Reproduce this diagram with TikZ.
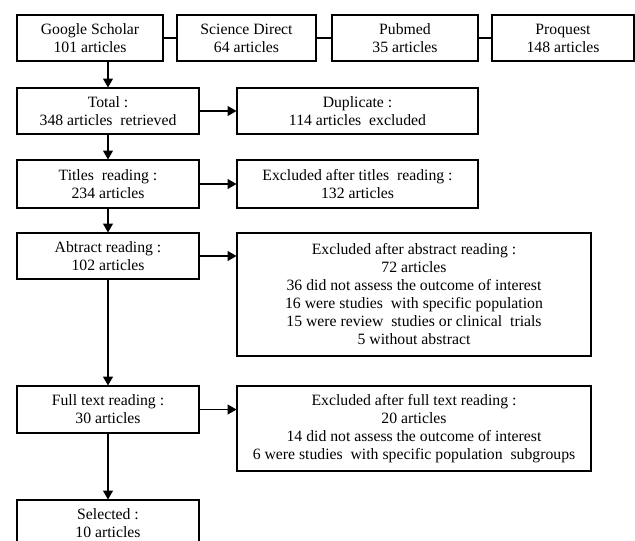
\documentclass[tikz,border=0pt]{standalone}
\usepackage{fontspec}
\setmainfont{Liberation Serif}
\usetikzlibrary{arrows}

\tikzset{
  box/.style={draw, line width=0.8pt, align=center, inner sep=0pt,
    font=\fontsize{11.8}{13.5}\selectfont},
  conn/.style={line width=0.8pt}
}

\begin{document}
\begin{tikzpicture}[x=0.75pt, y=-0.75pt, >=triangle 60]
\useasboundingbox (0,0) rectangle (635,540);
\clip (0,0) rectangle (635,540);

% databases
\begin {scope}
  \node [box, minimum width=109.5pt, minimum height=34.5pt] (gs) at (90,38) {Google Scholar\\101 articles};
  \node [box, minimum width=104.25pt, minimum height=34.5pt] (sd) at (246.5,38) {Science Direct\\64 articles};
  \node [box, minimum width=109.5pt, minimum height=34.5pt] (pm) at (405,38) {Pubmed\\35 articles};
  \node [box, minimum width=106.5pt, minimum height=34.5pt] (pq) at (563,38) {Proquest\\148 articles};
  \draw [conn] (gs.east) -- (sd.west);
  \draw [conn] (sd.east) -- (pm.west);
  \draw [conn] (pm.east) -- (pq.west);
\end {scope}

% main steps
\node [box, minimum width=136.5pt, minimum height=34.5pt] (total) at (108,111) {Total :\\348 articles~ retrieved};
\node [box, minimum width=136.5pt, minimum height=36pt] (titles) at (108,184) {Titles~ reading :\\234 articles};
\node [box, minimum width=136.5pt, minimum height=34.5pt] (abstract) at (108,256) {Abtract reading :\\102 articles};
\node [box, minimum width=136.5pt, minimum height=35.25pt] (fulltext) at (108,409.5) {Full text reading :\\30 articles};
\node [box, minimum width=136.5pt, minimum height=34.5pt] (selected) at (108,523) {Selected :\\10 articles};

% exclusions
\node [box, minimum width=180.75pt, minimum height=34.5pt] (dup) at (357.5,111) {Duplicate :\\114 articles~ excluded};
\node [box, minimum width=180.75pt, minimum height=36pt] (extitles) at (357.5,184) {Excluded after titles~ reading :\\132 articles};
\node [box, minimum width=265.5pt, minimum height=92.25pt] (exabstract) at (414,294.5) {Excluded after abstract reading :\\72 articles\\36 did not assess the outcome of interest\\16 were studies~ with specific population\\15 were review~ studies or clinical~ trials\\5 without abstract};
\node [box, minimum width=265.5pt, minimum height=63.75pt] (exfull) at (414,428.5) {Excluded after full text reading :\\20 articles\\14 did not assess the outcome of interest\\6 were studies~ with specific population~ subgroups};

% arrows
\draw [conn,->] (gs.south -| total.north) -- (total.north);
\draw [conn,->] (total) -- (titles);
\draw [conn,->] (titles) -- (abstract);
\draw [conn,->] (abstract) -- (fulltext);
\draw [conn,->] (fulltext) -- (selected);
\draw [conn,->] (total.east) -- (dup.west);
\draw [conn,->] (titles.east) -- (extitles.west);
\draw [conn,->] (abstract.east) -- (abstract.east -| exabstract.west);
\draw [conn,->] (fulltext.east) -- (fulltext.east -| exfull.west);
\end{tikzpicture}
\end{document}
